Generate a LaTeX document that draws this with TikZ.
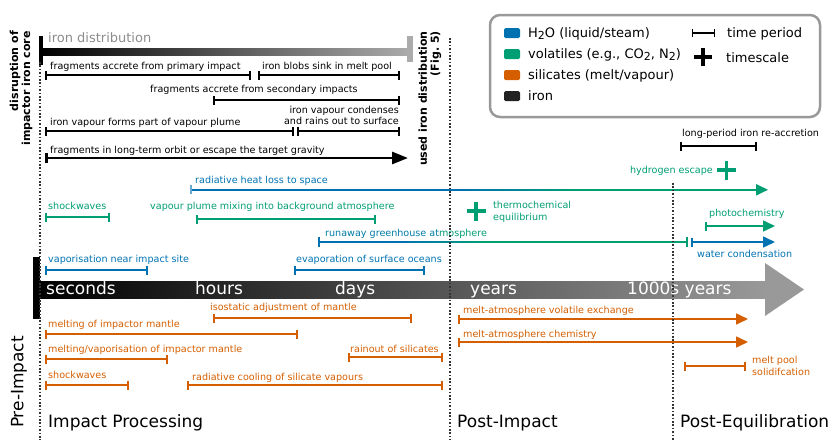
\documentclass[tikz,border=0pt]{standalone}
\usepackage{fontspec}
\setmainfont{DejaVu Sans}
\usetikzlibrary{arrows.meta}
\definecolor{hwater}{RGB}{0,114,178}
\definecolor{volat}{RGB}{0,158,115}
\definecolor{silic}{RGB}{213,94,0}
\definecolor{ironc}{RGB}{34,34,34}
\newcommand{\sbs}[1]{\raisebox{-0.35ex}{\fontsize{11}{11}\selectfont #1}}

\begin{document}
\begin{tikzpicture}[x=1pt,y=-1pt,
    lbl/.style={anchor=base west,inner sep=0pt,font=\fontsize{9.6}{11}\selectfont},
    lblr/.style={lbl,anchor=base east},
    leg/.style={anchor=base west,inner sep=0pt,font=\fontsize{13}{15}\selectfont},
    phase/.style={anchor=base west,inner sep=0pt,font=\fontsize{17}{20}\selectfont},
    tscale/.style={phase,text=white},
    vert/.style={rotate=90,anchor=east,align=right,inner sep=0pt,font=\bfseries\fontsize{11}{12}\selectfont},
    per/.style={line width=1.6pt,{Bar[width=9pt]}-{Bar[width=9pt]}},
    fwd/.style={line width=1.6pt,{Bar[width=9pt]}-{Triangle[length=12pt,width=11pt]}},
    dots/.style={black!80,line width=1.1pt,dash pattern=on 1.6pt off 1.8pt},
    plus/.style={line width=3.6pt}]
\useasboundingbox (0,0) rectangle (831,440);

% time axis
\shade[left color=black,right color=black!40] (40,281) rectangle (766,298);
\fill[black!40] (765,263) -- (804,289.5) -- (765,316) -- cycle;
\fill[black] (33,257) rectangle (40,319);
\node[tscale] (tsec) at (46,294) {seconds};
\node[tscale] (thour) at (195,294) {hours};
\node[tscale] (tday) at (335,294) {days};
\node[tscale] (tyear) at (470,294) {years};
\node[tscale] (tkyear) at (627,294) {1000s years};

% iron distribution
\shade[left color=black,right color=black!33] (40,48) rectangle (410,55);
\fill[black] (39,36) rectangle (43,65);
\fill[black!33] (407,36) rectangle (413,62);
\node[leg,text=black!45] (irondist) at (48,42) {iron distribution};
\node[vert] (disrupt) at (21,31) {disruption of\\impactor iron core};
\node[vert] (usedfig) at (430,31) {used iron distribution\\(Fig.~5)};

\draw[per] (45,75) -- (251,75);
\node[lbl] (fragA) at (50,69) {fragments accrete from primary impact};
\draw[per] (258,75) -- (400,75);
\node[lbl] (blobs) at (262,69) {iron blobs sink in melt pool};
\draw[per] (213,100) -- (400,100);
\node[lbl] (fragB) at (150,92) {fragments accrete from secondary impacts};
\draw[per] (45,131) -- (294,131);
\node[lbl] (plume) at (50,125) {iron vapour forms part of vapour plume};
\draw[per] (297,131) -- (400,131);
\node[lblr] (condA) at (399,113) {iron vapour condenses};
\node[lblr] (condB) at (399,124) {and rains out to surface};
\draw[line width=2.8pt,{Bar[width=10pt]}-{Triangle[length=16pt,width=12pt]}] (45,158) -- (408,158);
\node[lbl] (orbit) at (50,153) {fragments in long-term orbit or escape the target gravity};
\draw[per] (680,146) -- (757,146);
\node[lbl] (reacc) at (682,136) {long-period iron re-accretion};

% legend
\draw[line width=2.5pt,black!40,rounded corners=10pt] (490,15) rectangle (820,117);
\fill[hwater,rounded corners=1.5pt] (504,28) rectangle (520,38);
\fill[volat,rounded corners=1.5pt] (504,49) rectangle (520,59);
\fill[silic,rounded corners=1.5pt] (504,70) rectangle (520,80);
\fill[ironc,rounded corners=1.5pt] (504,91) rectangle (520,101);
\node[leg] (legwater) at (528,37.5) {H\sbs{2}O (liquid/steam)};
\node[leg] (legvol) at (528,58.5) {volatiles (e.g., CO\sbs{2}, N\sbs{2})};
\node[leg] (legsil) at (528,79.5) {silicates (melt/vapour)};
\node[leg] (legiron) at (528,100.5) {iron};
\draw[line width=1.2pt,{Bar[width=8pt]}-{Bar[width=8pt]}] (692,33) -- (715,33);
\node[leg] (legper) at (727,37.5) {time period};
\draw[plus] (694,57) -- (712,57) (703,48) -- (703,66);
\node[leg] (legscale) at (726,62) {timescale};

% volatiles and water
\node[lblr,text=volat] (hesc) at (713,173) {hydrogen escape};
\draw[plus,volat] (717,170) -- (736,170) (726.5,160.5) -- (726.5,179.5);
\fill[hwater] (191,188.8) rectangle (461,190.8);
\foreach \k [evaluate=\k as \p using int(100-\k*9)] in {0,...,11}
  \fill[hwater!\p!volat] ({460+\k*10},188.8) rectangle ({471+\k*10},190.8);
\fill[volat] (579.5,188.8) rectangle (758,190.8);
\fill[volat] (756,184) -- (768,189.8) -- (756,195.6) -- cycle;
\draw[hwater!60,line width=1.2pt] (191,185) -- (191,194);
\node[lbl,text=hwater] (radloss) at (195,183) {radiative heat loss to space};

\draw[per,volat] (45,217) -- (110,217);
\node[lbl,text=volat] (shockV) at (48,209) {shockwaves};
\draw[per,volat] (196,219) -- (376,219);
\node[lbl,text=volat] (mixing) at (150,209) {vapour plume mixing into background atmosphere};
\draw[plus,volat] (466.5,211) -- (485.5,211) (476,201.5) -- (476,220.5);
\node[lbl,text=volat] (thermoA) at (493,208) {thermochemical};
\node[lbl,text=volat] (thermoB) at (493,220) {equilibrium};
\draw[fwd,volat] (705,226) -- (775,226);
\node[lbl,text=volat] (photo) at (709,216) {photochemistry};

\fill[hwater] (319,241) rectangle (401,243);
\foreach \k [evaluate=\k as \p using int(100-\k*12.5)] in {0,...,8}
  \fill[hwater!\p!volat] ({400+\k*10},241) rectangle ({411+\k*10},243);
\fill[volat] (489.5,241) rectangle (687,243);
\draw[hwater,line width=1.2pt] (319,237) -- (319,247);
\draw[volat,line width=1.2pt] (687,237) -- (687,247);
\node[lbl] (runaway) at (325,236) {\textcolor{hwater!80!volat}{runaway greenhouse at}\textcolor{volat}{mosphere}};
\draw[fwd,hwater] (691,242) -- (775,242);
\node[lbl,text=hwater] (watercond) at (697,257) {water condensation};

\draw[per,hwater] (45,270) -- (148,270);
\node[lbl,text=hwater] (vapsite) at (48,262) {vaporisation near impact site};
\draw[per,hwater] (294,270) -- (425,270);
\node[lbl,text=hwater] (oceans) at (296,262) {evaporation of surface oceans};

% silicates
\draw[per,silic] (213,318) -- (412,318);
\node[lbl,text=silic] (isostatic) at (210,310) {isostatic adjustment of mantle};
\draw[per,silic] (45,334) -- (298,334);
\node[lbl,text=silic] (meltA) at (48,327) {melting of impactor mantle};
\draw[fwd,silic] (458,319) -- (748,319);
\node[lbl,text=silic] (exchange) at (463,313) {melt-atmosphere volatile exchange};
\draw[fwd,silic] (458,342) -- (748,342);
\node[lbl,text=silic] (chem) at (463,337) {melt-atmosphere chemistry};
\draw[per,silic] (45,359) -- (168,359);
\node[lbl,text=silic] (meltB) at (48,352) {melting/vaporisation of impactor mantle};
\draw[per,silic] (348,357) -- (443,357);
\node[lbl,text=silic] (rainout) at (350,352) {rainout of silicates};
\draw[per,silic] (684,366) -- (746,366);
\node[lbl,text=silic] (poolA) at (752,363) {melt pool};
\node[lbl,text=silic] (poolB) at (752,375) {solidifcation};
\draw[per,silic] (45,385) -- (129,385);
\node[lbl,text=silic] (shockS) at (48,378) {shockwaves};
\draw[per,silic] (187,385) -- (443,385);
\node[lbl,text=silic] (cooling) at (192,380) {radiative cooling of silicate vapours};

% phases
\draw[dots] (40,62) -- (40,440);
\draw[dots] (450,38) -- (450,440);
\draw[dots] (673,183) -- (673,440);
\node[rotate=90,inner sep=0pt,font=\fontsize{17}{20}\selectfont] (preimp) at (19,382) {Pre-Impact};
\node[phase] (impproc) at (48,427) {Impact Processing};
\node[phase] (postimp) at (457,427) {Post-Impact};
\node[phase] (posteq) at (680,427) {Post-Equilibration};
\end{tikzpicture}
\end{document}
